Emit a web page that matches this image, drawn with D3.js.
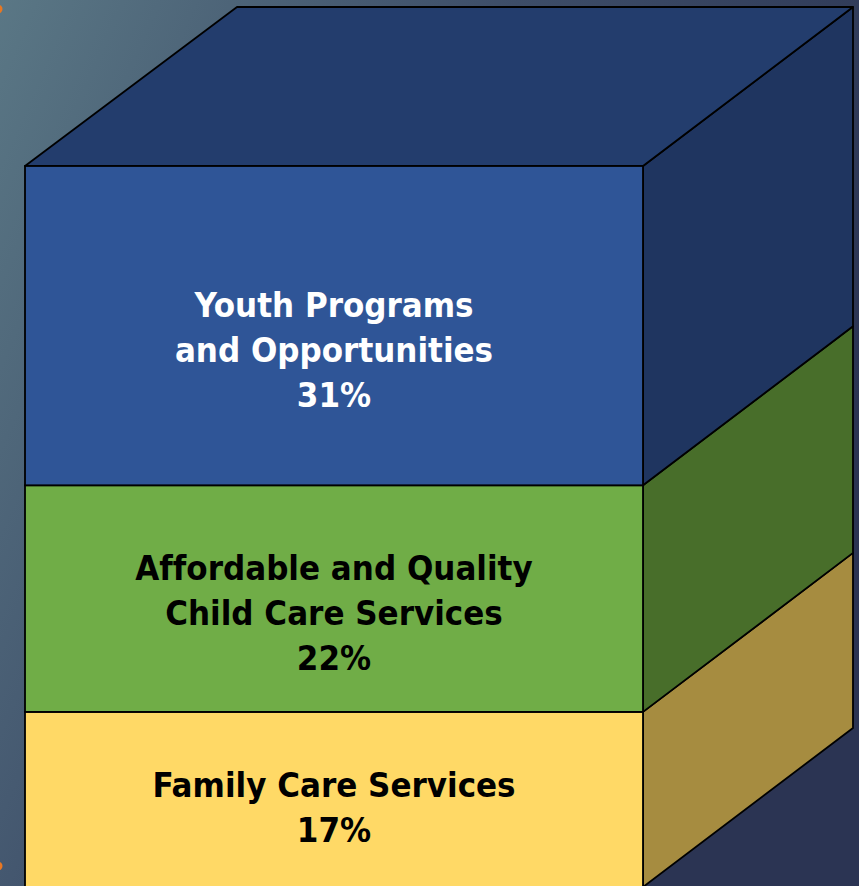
<!DOCTYPE html>
<html>
<head>
<meta charset="utf-8">
<script src="https://cdn.jsdelivr.net/npm/d3@7"></script>
<style>
  html, body { margin: 0; padding: 0; overflow: hidden; }
  body { width: 859px; height: 886px; }
</style>
</head>
<body>
<div class="chart"></div>
<script>
// Chart data (bottom to top)
const categories = ['Family Care Services', 'Affordable and Quality Child Care Services', 'Youth Programs and Opportunities'];
const shares = [17, 22, 31];
const labelLines = [
  ['Family Care Services'],
  ['Affordable and Quality', 'Child Care Services'],
  ['Youth Programs', 'and Opportunities']
];
const frontColors = ['#ffd966', '#70ad47', '#2f5597'];
const sideColors = ['#a68c40', '#486e2a', '#1f3560'];
const textColors = ['#000000', '#000000', '#ffffff'];
const topColor = '#233d6d';

// Dimensions
const width = 859, height = 886;
const frontLeft = 25, frontRight = 643;
const depthX = 210, depthY = -159;
const topY = 166, bottomY = 887;
const lineHeight = 45;

const svg = d3.select('.chart')
  .append('svg')
  .attr('width', width)
  .attr('height', height);

// Background gradient
const defs = svg.append('defs');
const grad = defs.append('linearGradient')
  .attr('id', 'bg')
  .attr('x1', '0').attr('y1', '0')
  .attr('x2', '1').attr('y2', '0.45');
grad.append('stop').attr('offset', '0%').attr('stop-color', '#5a7785');
grad.append('stop').attr('offset', '50%').attr('stop-color', '#3d4d68');
grad.append('stop').attr('offset', '100%').attr('stop-color', '#2b3453');

svg.append('rect')
  .attr('width', width)
  .attr('height', height)
  .attr('fill', 'url(#bg)');

// small orange marks at the left edge
[9, 866].forEach(cy => {
  svg.append('circle')
    .attr('cx', -2).attr('cy', cy).attr('r', 4.5)
    .attr('fill', '#e87722');
});

// Stack the segments
const total = d3.sum(shares);
const yScale = d3.scaleLinear()
  .domain([0, total])
  .range([bottomY, topY]);

const stacked = d3.stack().keys(categories)([
  Object.fromEntries(categories.map((c, i) => [c, shares[i]]))
]);
const segments = stacked.map((s, i) => ({
  name: s.key,
  value: shares[i],
  y0: s[0][0],
  y1: s[0][1],
  i: i
}));

const g = svg.append('g');

// Side faces
g.selectAll('.side')
  .data(segments)
  .enter()
  .append('path')
  .attr('class', 'side')
  .attr('d', d => {
    const yb = yScale(d.y0), yt = yScale(d.y1);
    return 'M' + frontRight + ',' + yt +
      'L' + (frontRight + depthX) + ',' + (yt + depthY) +
      'L' + (frontRight + depthX) + ',' + (yb + depthY) +
      'L' + frontRight + ',' + yb + 'Z';
  })
  .attr('fill', d => sideColors[d.i])
  .attr('stroke', '#000')
  .attr('stroke-width', 1.8)
  .attr('stroke-linejoin', 'round');

// Top face
const yTop = yScale(total);
g.append('path')
  .attr('d', 'M' + frontLeft + ',' + yTop +
    'L' + (frontLeft + depthX + 2) + ',' + (yTop + depthY) +
    'L' + (frontRight + depthX) + ',' + (yTop + depthY) +
    'L' + frontRight + ',' + yTop + 'Z')
  .attr('fill', topColor)
  .attr('stroke', '#000')
  .attr('stroke-width', 1.8)
  .attr('stroke-linejoin', 'round');

// Front faces
g.selectAll('.front')
  .data(segments)
  .enter()
  .append('rect')
  .attr('class', 'front')
  .attr('x', frontLeft)
  .attr('y', d => yScale(d.y1))
  .attr('width', frontRight - frontLeft)
  .attr('height', d => yScale(d.y0) - yScale(d.y1))
  .attr('fill', d => frontColors[d.i])
  .attr('stroke', '#000')
  .attr('stroke-width', 1.8);

// Labels
segments.forEach(d => {
  const lines = labelLines[d.i].concat([d.value + '%']);
  const yt = yScale(d.y1), yb = yScale(d.y0);
  const anchor = yt + (yb - yt) * 0.615;
  const text = g.append('text')
    .attr('text-anchor', 'middle')
    .attr('fill', textColors[d.i])
    .style('font-family', "'DejaVu Sans Condensed', 'DejaVu Sans', sans-serif")
    .style('font-stretch', 'condensed')
    .style('font-weight', 'bold')
    .style('font-variant-ligatures', 'none')
    .style('font-size', '34.5px');
  lines.forEach((line, k) => {
    text.append('tspan')
      .attr('x', (frontLeft + frontRight) / 2)
      .attr('y', anchor + (k - (lines.length - 1) / 2) * lineHeight)
      .text(line);
  });
});
</script>
</body>
</html>
